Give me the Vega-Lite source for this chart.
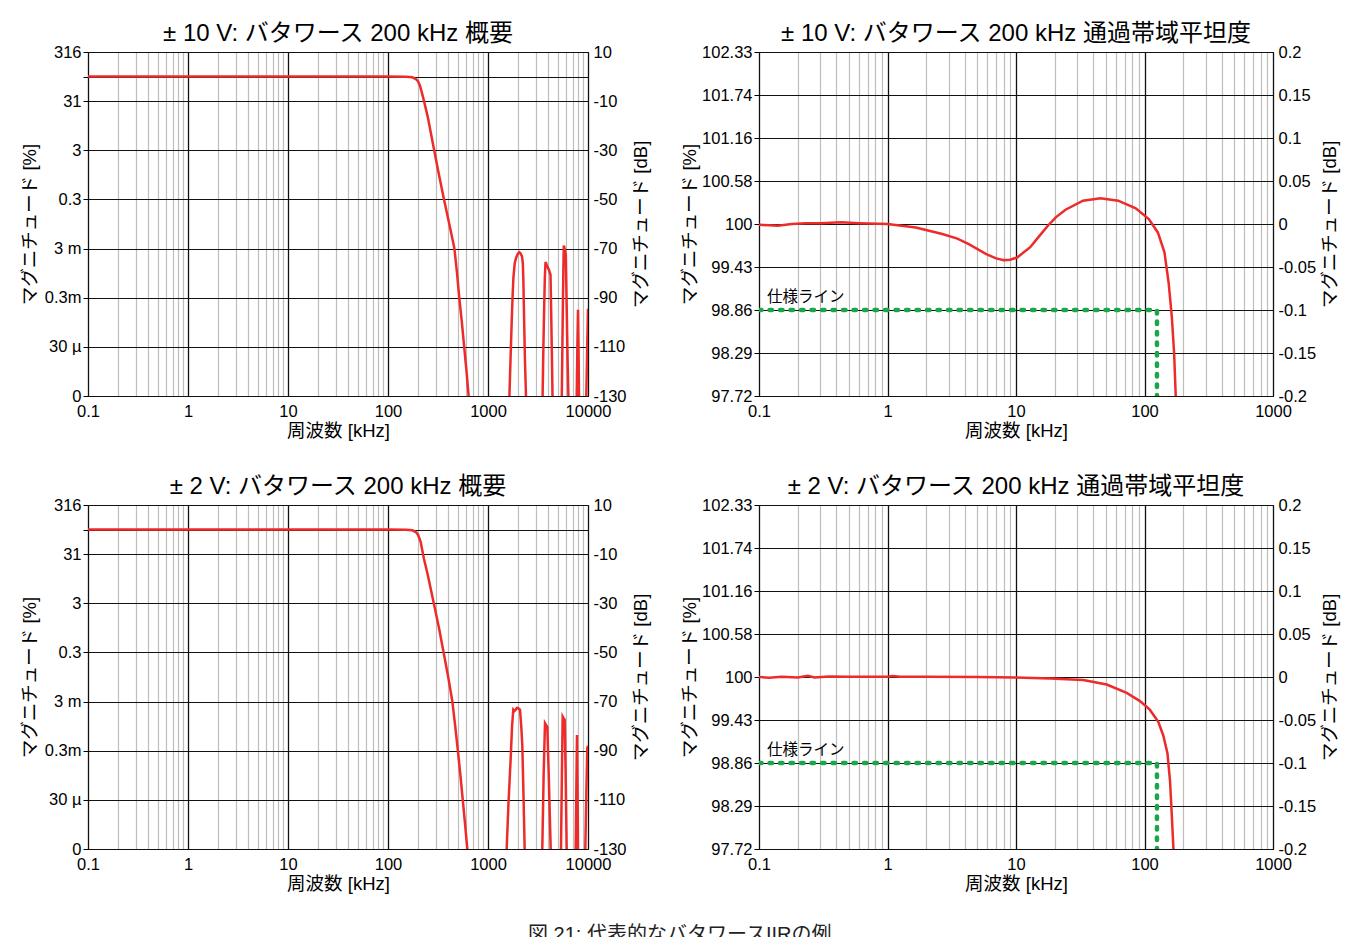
{
  "$schema": "https://vega.github.io/schema/vega-lite/v6.json",
  "background": "white",
  "padding": {"left": 19, "top": 21, "right": 10, "bottom": -8},
  "title": {"text": "図 21: 代表的なバタワースIIRの例", "orient": "bottom", "anchor": "middle", "fontSize": 20, "fontWeight": "normal", "color": "#222", "offset": 31},
  "config": {
    "font": "Liberation Sans, Noto Sans CJK JP, sans-serif",
    "view": {"stroke": "#000", "strokeWidth": 1},
    "axis": {"labelFontSize": 16.5, "labelColor": "#000", "titleFontSize": 18.5, "titleFontWeight": "normal", "titleColor": "#000", "domain": false, "tickColor": "#000", "labelFlush": false, "labelOverlap": false, "gridOpacity": 1},
    "title": {"fontSize": 24, "fontWeight": "normal", "color": "#000", "offset": -2, "anchor": "middle"}
  },
  "spacing": {"row": 33, "column": 29},
  "datasets": {
    "tl": [
      {"f": 0.1, "dB": 0}, {"f": 1, "dB": 0}, {"f": 10, "dB": 0}, {"f": 100, "dB": 0}, {"f": 150, "dB": -0.05}, {"f": 175, "dB": -0.3}, {"f": 190, "dB": -1.0}, {"f": 200, "dB": -2.0}, {"f": 208, "dB": -3.5}, {"f": 218, "dB": -6.5}, {"f": 228, "dB": -9.6}, {"f": 250, "dB": -16.5}, {"f": 287, "dB": -29.2}, {"f": 320, "dB": -39}, {"f": 361, "dB": -49.5}, {"f": 410, "dB": -60}, {"f": 461, "dB": -69.8}, {"f": 490, "dB": -80}, {"f": 516, "dB": -90.1}, {"f": 548, "dB": -100}, {"f": 579, "dB": -110.4}, {"f": 610, "dB": -120}, {"f": 640, "dB": -130}, {"f": 660, "dB": -140},
      {"f": 1590, "dB": -140}, {"f": 1637, "dB": -130}, {"f": 1680, "dB": -115}, {"f": 1726, "dB": -99.6}, {"f": 1760, "dB": -90}, {"f": 1794, "dB": -82}, {"f": 1850, "dB": -76}, {"f": 1906, "dB": -73.9}, {"f": 1980, "dB": -72.2}, {"f": 2056, "dB": -71.5}, {"f": 2120, "dB": -72}, {"f": 2188, "dB": -73.2}, {"f": 2230, "dB": -76}, {"f": 2255, "dB": -82}, {"f": 2300, "dB": -100}, {"f": 2340, "dB": -115}, {"f": 2398, "dB": -130}, {"f": 2430, "dB": -140},
      {"f": 3470, "dB": -140}, {"f": 3516, "dB": -130}, {"f": 3580, "dB": -110}, {"f": 3650, "dB": -92.8}, {"f": 3700, "dB": -82}, {"f": 3761, "dB": -75.5}, {"f": 3850, "dB": -76.5}, {"f": 3999, "dB": -78}, {"f": 4100, "dB": -79}, {"f": 4218, "dB": -80.7}, {"f": 4260, "dB": -90}, {"f": 4340, "dB": -110}, {"f": 4418, "dB": -130}, {"f": 4450, "dB": -140},
      {"f": 5420, "dB": -140}, {"f": 5470, "dB": -130}, {"f": 5600, "dB": -95}, {"f": 5690, "dB": -75}, {"f": 5728, "dB": -68.8}, {"f": 5800, "dB": -69.5}, {"f": 5900, "dB": -71}, {"f": 5998, "dB": -72.5}, {"f": 6100, "dB": -90}, {"f": 6250, "dB": -115}, {"f": 6370, "dB": -130}, {"f": 6420, "dB": -140},
      {"f": 7650, "dB": -140}, {"f": 7710, "dB": -130}, {"f": 7830, "dB": -110}, {"f": 7945, "dB": -94.9}, {"f": 8040, "dB": -110}, {"f": 8128, "dB": -130}, {"f": 8180, "dB": -140},
      {"f": 9560, "dB": -140}, {"f": 9616, "dB": -130}, {"f": 9800, "dB": -112}, {"f": 10000, "dB": -94.5}
    ],
    "bl": [
      {"f": 0.1, "dB": 0}, {"f": 1, "dB": 0}, {"f": 10, "dB": 0}, {"f": 100, "dB": 0}, {"f": 150, "dB": -0.05}, {"f": 175, "dB": -0.3}, {"f": 190, "dB": -1.0}, {"f": 200, "dB": -2.2}, {"f": 212, "dB": -5}, {"f": 229, "dB": -12}, {"f": 250, "dB": -18.5}, {"f": 288, "dB": -30.3}, {"f": 325, "dB": -40.5}, {"f": 363, "dB": -50.8}, {"f": 400, "dB": -60}, {"f": 440, "dB": -69.9}, {"f": 470, "dB": -80}, {"f": 501, "dB": -90.4}, {"f": 530, "dB": -100}, {"f": 562, "dB": -110.9}, {"f": 590, "dB": -120}, {"f": 621, "dB": -130}, {"f": 640, "dB": -140},
      {"f": 1500, "dB": -140}, {"f": 1537, "dB": -130}, {"f": 1600, "dB": -112}, {"f": 1686, "dB": -93.1}, {"f": 1740, "dB": -80}, {"f": 1791, "dB": -73.3}, {"f": 1840, "dB": -73.8}, {"f": 1892, "dB": -73.3}, {"f": 1940, "dB": -72.6}, {"f": 1995, "dB": -72.6}, {"f": 2050, "dB": -73}, {"f": 2089, "dB": -73.3}, {"f": 2150, "dB": -80}, {"f": 2203, "dB": -87.7}, {"f": 2270, "dB": -110}, {"f": 2326, "dB": -130}, {"f": 2360, "dB": -140},
      {"f": 3460, "dB": -140}, {"f": 3491, "dB": -130}, {"f": 3600, "dB": -100}, {"f": 3715, "dB": -78.8}, {"f": 3800, "dB": -79.5}, {"f": 3918, "dB": -80.2}, {"f": 4050, "dB": -100}, {"f": 4236, "dB": -130}, {"f": 4280, "dB": -140},
      {"f": 5330, "dB": -140}, {"f": 5370, "dB": -130}, {"f": 5480, "dB": -100}, {"f": 5580, "dB": -76.1}, {"f": 5700, "dB": -76.8}, {"f": 5843, "dB": -77.4}, {"f": 5980, "dB": -100}, {"f": 6119, "dB": -130}, {"f": 6170, "dB": -140},
      {"f": 7480, "dB": -140}, {"f": 7530, "dB": -130}, {"f": 7650, "dB": -105}, {"f": 7762, "dB": -83.6}, {"f": 7850, "dB": -105}, {"f": 7943, "dB": -130}, {"f": 7990, "dB": -140},
      {"f": 9350, "dB": -140}, {"f": 9400, "dB": -130}, {"f": 9620, "dB": -108}, {"f": 9840, "dB": -89}, {"f": 10000, "dB": -88}
    ],
    "tr": [
      {"f": 0.1, "dB": -0.001}, {"f": 0.12, "dB": -0.0015}, {"f": 0.14, "dB": -0.002}, {"f": 0.18, "dB": 0.0}, {"f": 0.232, "dB": 0.001}, {"f": 0.3, "dB": 0.001}, {"f": 0.436, "dB": 0.002}, {"f": 0.6, "dB": 0.001}, {"f": 1.0, "dB": 0.0}, {"f": 1.66, "dB": -0.004}, {"f": 2.67, "dB": -0.0117}, {"f": 3.5, "dB": -0.017}, {"f": 4.29, "dB": -0.0234}, {"f": 5.87, "dB": -0.035}, {"f": 7.0, "dB": -0.04}, {"f": 8.05, "dB": -0.042}, {"f": 9.0, "dB": -0.0415}, {"f": 10.2, "dB": -0.039}, {"f": 12.9, "dB": -0.027}, {"f": 15.0, "dB": -0.015}, {"f": 17.7, "dB": -0.002}, {"f": 20.5, "dB": 0.008}, {"f": 24.3, "dB": 0.0166}, {"f": 33.2, "dB": 0.0271}, {"f": 45.5, "dB": 0.0298}, {"f": 62.4, "dB": 0.0271}, {"f": 85.5, "dB": 0.0182}, {"f": 108, "dB": 0.0057}, {"f": 127, "dB": -0.0098}, {"f": 143, "dB": -0.033}, {"f": 154, "dB": -0.068}, {"f": 163, "dB": -0.107}, {"f": 170, "dB": -0.15}, {"f": 175, "dB": -0.2}, {"f": 177, "dB": -0.25}
    ],
    "br": [
      {"f": 0.1, "dB": 0}, {"f": 0.12, "dB": -0.0008}, {"f": 0.15, "dB": 0.0003}, {"f": 0.2, "dB": -0.0005}, {"f": 0.24, "dB": 0.0015}, {"f": 0.27, "dB": -0.0005}, {"f": 0.35, "dB": 0.0005}, {"f": 0.5, "dB": 0.0003}, {"f": 0.8, "dB": 0.0004}, {"f": 1.0, "dB": 0.0004}, {"f": 1.1, "dB": 0.0012}, {"f": 1.25, "dB": 0.0002}, {"f": 2, "dB": 0.0002}, {"f": 5, "dB": 0.0001}, {"f": 10, "dB": -0.0005}, {"f": 18.4, "dB": -0.0016}, {"f": 33.4, "dB": -0.0035}, {"f": 50.8, "dB": -0.0087}, {"f": 72.7, "dB": -0.0185}, {"f": 92.2, "dB": -0.028}, {"f": 110, "dB": -0.038}, {"f": 128, "dB": -0.052}, {"f": 140, "dB": -0.068}, {"f": 151, "dB": -0.089}, {"f": 158, "dB": -0.121}, {"f": 163, "dB": -0.16}, {"f": 168, "dB": -0.2}, {"f": 170, "dB": -0.25}
    ],
    "spec": [
      {"f": 0.1, "dB": -0.1, "label": "仕様ライン"}, {"f": 125, "dB": -0.1, "label": ""}, {"f": 125, "dB": -0.2, "label": ""}
    ]
  },
  "columns": 2,
  "concat": [
    {
      "title": {"text": "± 10 V: バタワース 200 kHz 概要"},
      "width": 500, "height": 344,
      "data": {"name": "tl"},
      "layer": [
        {"mark": {"type": "line", "color": "#ed2b2b", "strokeWidth": 2.5, "clip": true},
         "encoding": {
           "x": {"field": "f", "type": "quantitative", "scale": {"type": "log", "domain": [0.1, 10000]},
                 "axis": {"title": "周波数 [kHz]", "values": [0.1,0.2,0.3,0.4,0.5,0.6,0.7,0.8,0.9,1,2,3,4,5,6,7,8,9,10,20,30,40,50,60,70,80,90,100,200,300,400,500,600,700,800,900,1000,2000,3000,4000,5000,6000,7000,8000,9000,10000],
                          "labelExpr": "abs(log(datum.value)/LN10 - round(log(datum.value)/LN10)) < 0.000001 ? format(datum.value, '~g') : ''",
                          "grid": true, "gridColor": {"condition": {"test": "abs(log(datum.value)/LN10 - round(log(datum.value)/LN10)) < 0.000001", "value": "#111"}, "value": "#bdbdbd"},
                          "gridWidth": {"condition": {"test": "abs(log(datum.value)/LN10 - round(log(datum.value)/LN10)) < 0.000001", "value": 1.3}, "value": 1.2},
                          "ticks": false, "labelPadding": 7, "titlePadding": 2}},
           "y": {"field": "dB", "type": "quantitative", "scale": {"domain": [-130, 10]},
                 "axis": {"orient": "left", "title": "マグニチュード [%]", "values": [10,0,-10,-30,-50,-70,-90,-110,-130],
                          "labelExpr": "datum.value==10?'316':datum.value==-10?'31':datum.value==-30?'3':datum.value==-50?'0.3':datum.value==-70?'3 m':datum.value==-90?'0.3m':datum.value==-110?'30 µ':datum.value==-130?'0':''",
                          "grid": true, "gridColor": "#111", "gridWidth": 1.2, "tickSize": 5, "labelPadding": 2, "titlePadding": 5}}
         }},
        {"mark": {"type": "line", "strokeOpacity": 0, "clip": true},
         "encoding": {
           "x": {"field": "f", "type": "quantitative"},
           "y": {"field": "dB", "type": "quantitative",
                 "axis": {"orient": "right", "title": "マグニチュード [dB]", "titleAngle": 270, "titleBaseline": "top", "values": [10,0,-10,-30,-50,-70,-90,-110,-130],
                          "labelExpr": "datum.value==0?'':''+datum.value", "grid": false, "ticks": false, "labelPadding": 5, "titlePadding": 5}}
         }}
      ],
      "resolve": {"axis": {"y": "independent"}}
    },
    {
      "title": {"text": "± 10 V: バタワース 200 kHz 通過帯域平坦度"},
      "width": 514, "height": 344,
      "layer": [
        {"data": {"name": "tr"},
         "mark": {"type": "line", "color": "#ed2b2b", "strokeWidth": 2.5, "clip": true},
         "encoding": {
           "x": {"field": "f", "type": "quantitative", "scale": {"type": "log", "domain": [0.1, 1000]},
                 "axis": {"title": "周波数 [kHz]", "values": [0.1,0.2,0.3,0.4,0.5,0.6,0.7,0.8,0.9,1,2,3,4,5,6,7,8,9,10,20,30,40,50,60,70,80,90,100,200,300,400,500,600,700,800,900,1000],
                          "labelExpr": "abs(log(datum.value)/LN10 - round(log(datum.value)/LN10)) < 0.000001 ? format(datum.value, '~g') : ''",
                          "grid": true, "gridColor": {"condition": {"test": "abs(log(datum.value)/LN10 - round(log(datum.value)/LN10)) < 0.000001", "value": "#111"}, "value": "#bdbdbd"},
                          "gridWidth": {"condition": {"test": "abs(log(datum.value)/LN10 - round(log(datum.value)/LN10)) < 0.000001", "value": 1.3}, "value": 1.2},
                          "ticks": false, "labelPadding": 7, "titlePadding": 2}},
           "y": {"field": "dB", "type": "quantitative", "scale": {"domain": [-0.2, 0.2]},
                 "axis": {"orient": "left", "title": "マグニチュード [%]", "values": [0.2,0.15,0.1,0.05,0,-0.05,-0.1,-0.15,-0.2],
                          "labelExpr": "datum.value==0.2?'102.33':datum.value==0.15?'101.74':datum.value==0.1?'101.16':datum.value==0.05?'100.58':datum.value==0?'100':datum.value==-0.05?'99.43':datum.value==-0.1?'98.86':datum.value==-0.15?'98.29':'97.72'",
                          "grid": true, "gridColor": "#111", "gridWidth": 1.2, "tickSize": 5, "labelPadding": 2, "titlePadding": 2}}
         }},
        {"data": {"name": "spec"},
         "mark": {"type": "line", "color": "#1ba64a", "strokeWidth": 4.5, "strokeDash": [2.5, 8], "strokeCap": "round", "clip": true},
         "encoding": {
           "x": {"field": "f", "type": "quantitative"},
           "y": {"field": "dB", "type": "quantitative",
                 "axis": {"orient": "right", "title": "マグニチュード [dB]", "titleAngle": 270, "titleBaseline": "top", "values": [0.2,0.15,0.1,0.05,0,-0.05,-0.1,-0.15,-0.2],
                          "labelExpr": "''+datum.value", "grid": false, "ticks": false, "labelPadding": 5, "titlePadding": 5}},
           "order": {"value": null}
         }},
        {"data": {"name": "spec"},
         "mark": {"type": "text", "align": "left", "baseline": "bottom", "dx": 8, "dy": -5, "fontSize": 15.5, "color": "#000"},
         "encoding": {
           "x": {"field": "f", "type": "quantitative"},
           "y": {"field": "dB", "type": "quantitative", "axis": null},
           "text": {"field": "label"}
         }}
      ],
      "resolve": {"axis": {"y": "independent"}}
    },
    {
      "title": {"text": "± 2 V: バタワース 200 kHz 概要"},
      "width": 500, "height": 344,
      "data": {"name": "bl"},
      "layer": [
        {"mark": {"type": "line", "color": "#ed2b2b", "strokeWidth": 2.5, "clip": true},
         "encoding": {
           "x": {"field": "f", "type": "quantitative", "scale": {"type": "log", "domain": [0.1, 10000]},
                 "axis": {"title": "周波数 [kHz]", "values": [0.1,0.2,0.3,0.4,0.5,0.6,0.7,0.8,0.9,1,2,3,4,5,6,7,8,9,10,20,30,40,50,60,70,80,90,100,200,300,400,500,600,700,800,900,1000,2000,3000,4000,5000,6000,7000,8000,9000,10000],
                          "labelExpr": "abs(log(datum.value)/LN10 - round(log(datum.value)/LN10)) < 0.000001 ? format(datum.value, '~g') : ''",
                          "grid": true, "gridColor": {"condition": {"test": "abs(log(datum.value)/LN10 - round(log(datum.value)/LN10)) < 0.000001", "value": "#111"}, "value": "#bdbdbd"},
                          "gridWidth": {"condition": {"test": "abs(log(datum.value)/LN10 - round(log(datum.value)/LN10)) < 0.000001", "value": 1.3}, "value": 1.2},
                          "ticks": false, "labelPadding": 7, "titlePadding": 2}},
           "y": {"field": "dB", "type": "quantitative", "scale": {"domain": [-130, 10]},
                 "axis": {"orient": "left", "title": "マグニチュード [%]", "values": [10,0,-10,-30,-50,-70,-90,-110,-130],
                          "labelExpr": "datum.value==10?'316':datum.value==-10?'31':datum.value==-30?'3':datum.value==-50?'0.3':datum.value==-70?'3 m':datum.value==-90?'0.3m':datum.value==-110?'30 µ':datum.value==-130?'0':''",
                          "grid": true, "gridColor": "#111", "gridWidth": 1.2, "tickSize": 5, "labelPadding": 2, "titlePadding": 5}}
         }},
        {"mark": {"type": "line", "strokeOpacity": 0, "clip": true},
         "encoding": {
           "x": {"field": "f", "type": "quantitative"},
           "y": {"field": "dB", "type": "quantitative",
                 "axis": {"orient": "right", "title": "マグニチュード [dB]", "titleAngle": 270, "titleBaseline": "top", "values": [10,0,-10,-30,-50,-70,-90,-110,-130],
                          "labelExpr": "datum.value==0?'':''+datum.value", "grid": false, "ticks": false, "labelPadding": 5, "titlePadding": 5}}
         }}
      ],
      "resolve": {"axis": {"y": "independent"}}
    },
    {
      "title": {"text": "± 2 V: バタワース 200 kHz 通過帯域平坦度"},
      "width": 514, "height": 344,
      "layer": [
        {"data": {"name": "br"},
         "mark": {"type": "line", "color": "#ed2b2b", "strokeWidth": 2.5, "clip": true},
         "encoding": {
           "x": {"field": "f", "type": "quantitative", "scale": {"type": "log", "domain": [0.1, 1000]},
                 "axis": {"title": "周波数 [kHz]", "values": [0.1,0.2,0.3,0.4,0.5,0.6,0.7,0.8,0.9,1,2,3,4,5,6,7,8,9,10,20,30,40,50,60,70,80,90,100,200,300,400,500,600,700,800,900,1000],
                          "labelExpr": "abs(log(datum.value)/LN10 - round(log(datum.value)/LN10)) < 0.000001 ? format(datum.value, '~g') : ''",
                          "grid": true, "gridColor": {"condition": {"test": "abs(log(datum.value)/LN10 - round(log(datum.value)/LN10)) < 0.000001", "value": "#111"}, "value": "#bdbdbd"},
                          "gridWidth": {"condition": {"test": "abs(log(datum.value)/LN10 - round(log(datum.value)/LN10)) < 0.000001", "value": 1.3}, "value": 1.2},
                          "ticks": false, "labelPadding": 7, "titlePadding": 2}},
           "y": {"field": "dB", "type": "quantitative", "scale": {"domain": [-0.2, 0.2]},
                 "axis": {"orient": "left", "title": "マグニチュード [%]", "values": [0.2,0.15,0.1,0.05,0,-0.05,-0.1,-0.15,-0.2],
                          "labelExpr": "datum.value==0.2?'102.33':datum.value==0.15?'101.74':datum.value==0.1?'101.16':datum.value==0.05?'100.58':datum.value==0?'100':datum.value==-0.05?'99.43':datum.value==-0.1?'98.86':datum.value==-0.15?'98.29':'97.72'",
                          "grid": true, "gridColor": "#111", "gridWidth": 1.2, "tickSize": 5, "labelPadding": 2, "titlePadding": 2}}
         }},
        {"data": {"name": "spec"},
         "mark": {"type": "line", "color": "#1ba64a", "strokeWidth": 4.5, "strokeDash": [2.5, 8], "strokeCap": "round", "clip": true},
         "encoding": {
           "x": {"field": "f", "type": "quantitative"},
           "y": {"field": "dB", "type": "quantitative",
                 "axis": {"orient": "right", "title": "マグニチュード [dB]", "titleAngle": 270, "titleBaseline": "top", "values": [0.2,0.15,0.1,0.05,0,-0.05,-0.1,-0.15,-0.2],
                          "labelExpr": "''+datum.value", "grid": false, "ticks": false, "labelPadding": 5, "titlePadding": 5}},
           "order": {"value": null}
         }},
        {"data": {"name": "spec"},
         "mark": {"type": "text", "align": "left", "baseline": "bottom", "dx": 8, "dy": -5, "fontSize": 15.5, "color": "#000"},
         "encoding": {
           "x": {"field": "f", "type": "quantitative"},
           "y": {"field": "dB", "type": "quantitative", "axis": null},
           "text": {"field": "label"}
         }}
      ],
      "resolve": {"axis": {"y": "independent"}}
    }
  ]
}
